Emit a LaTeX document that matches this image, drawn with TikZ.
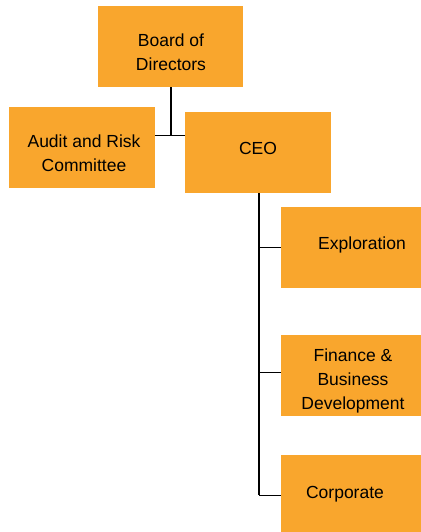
\documentclass[tikz,border=0pt]{standalone}
\usepackage{fontspec}
\setmainfont{Liberation Sans}
\definecolor{boxorange}{RGB}{249,166,45}
\begin{document}
\begin{tikzpicture}[x=1pt,y=1pt,
  orgbox/.style={fill=boxorange, draw=none, inner sep=0pt, minimum height=81pt},
  orgtext/.style={align=center, inner sep=0pt, font=\fontsize{17.5}{24}\selectfont, text=black},
  link/.style={draw=black, line width=1.2pt}]
\useasboundingbox (0,0) rectangle (420,-532);
% boxes
\node[orgbox, minimum width=145pt] (board) at (170.5,-46.5) {};
\node[orgbox, minimum width=146pt] (audit) at (82,-147.5) {};
\node[orgbox, minimum width=146pt] (ceo) at (258,-152.5) {};
\node[orgbox, minimum width=140pt] (expl) at (351,-247.5) {};
\node[orgbox, minimum width=140pt] (fin) at (351,-375.5) {};
\node[orgbox, minimum width=140pt] (corp) at (351,-495.5) {};
% texts
\node[orgtext] (tboard) at (171,-52) {Board of\\Directors};
\node[orgtext] (taudit) at (84,-153) {Audit and Risk\\Committee};
\node[orgtext] (tceo) at (258,-148) {CEO};
\node[orgtext] (texpl) at (362,-245) {Exploration};
\node[orgtext] (tfin) at (353,-381) {Finance \&\\Business\\Development};
\node[orgtext] (tcorp) at (345,-494) {Corporate};
% connectors
\coordinate (j1) at (171,-135);
\coordinate (b1) at (259,-247);
\coordinate (b2) at (259,-372);
\coordinate (b3) at (259,-495);
\draw[link] (board.south -| j1) -- (j1);
\draw[link, line width=1pt] (audit.east |- j1) -- (ceo.west |- j1);
\draw[link] (ceo.south -| b1) -- (b3);
\draw[link, line width=1pt] (b1) -- (expl.west |- b1);
\draw[link, line width=1pt] (b2) -- (fin.west |- b2);
\draw[link, line width=1pt] (b3) -- (corp.west |- b3);
\end{tikzpicture}
\end{document}
